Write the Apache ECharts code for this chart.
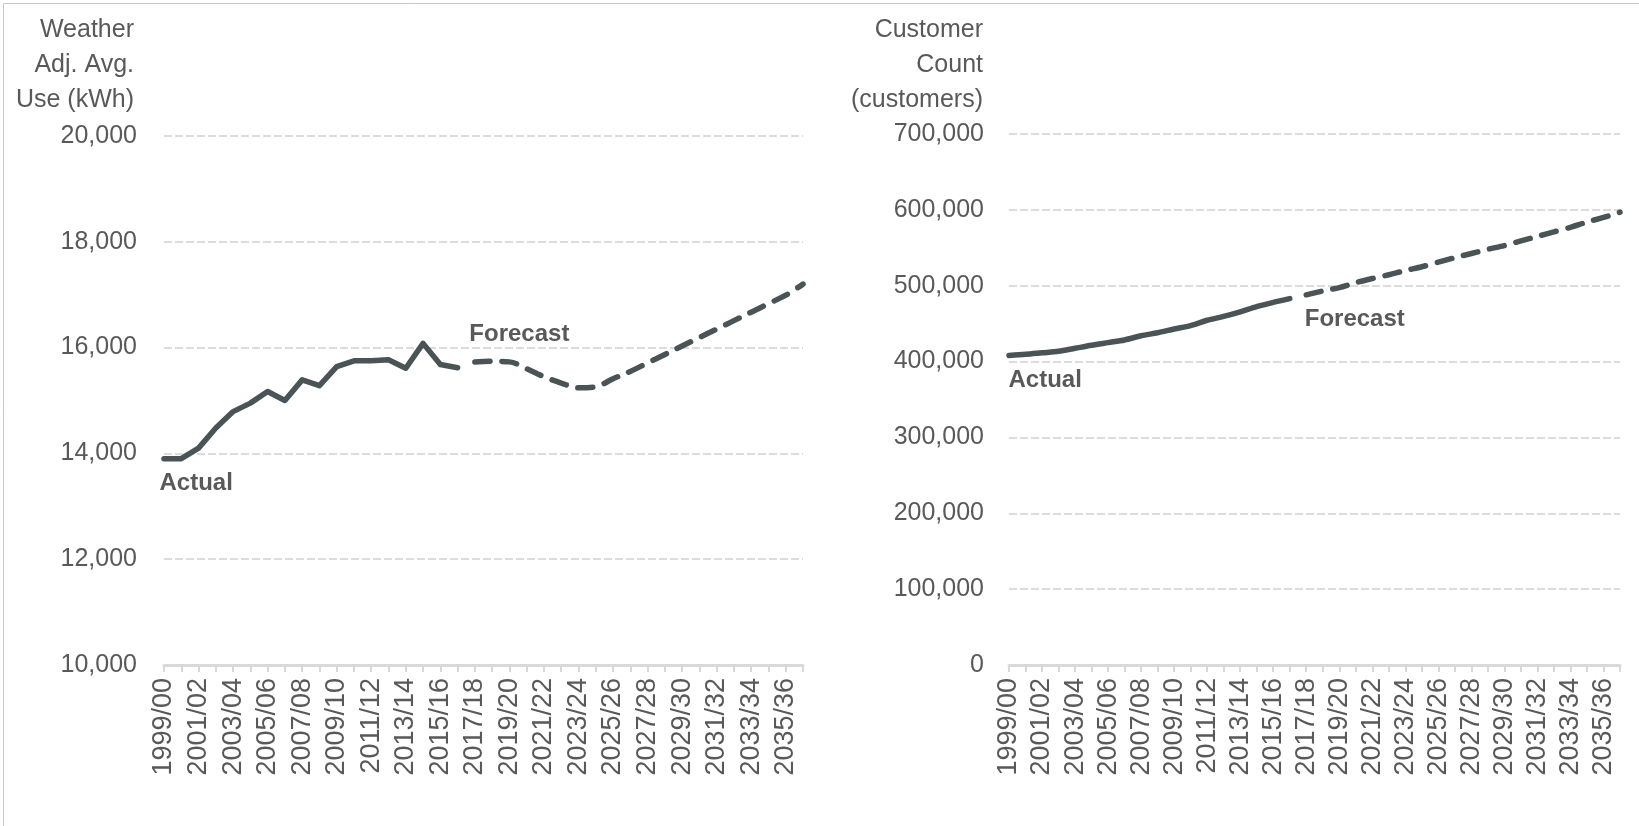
<!DOCTYPE html>
<html>
<head>
<meta charset="utf-8">
<title>Weather adjusted average use and customer count</title>
<script src="https://cdn.jsdelivr.net/npm/echarts@6/dist/echarts.min.js"></script>
<style>
  html, body { margin: 0; padding: 0; background: #ffffff; }
  #chart { width: 1639px; height: 826px; }
</style>
</head>
<body>
<div id="chart"></div>
<script>
// Fiscal years shown on both category axes
const fiscalYears = [
  '1999/00', '2000/01', '2001/02', '2002/03', '2003/04', '2004/05', '2005/06', '2006/07',
  '2007/08', '2008/09', '2009/10', '2010/11', '2011/12', '2012/13', '2013/14', '2014/15',
  '2015/16', '2016/17', '2017/18', '2018/19', '2019/20', '2020/21', '2021/22', '2022/23',
  '2023/24', '2024/25', '2025/26', '2026/27', '2027/28', '2028/29', '2029/30', '2030/31',
  '2031/32', '2032/33', '2033/34', '2034/35', '2035/36', '2036/37'
];

// Weather adjusted average use (kWh): actual 1999/00-2016/17, forecast 2017/18-2036/37
const avgUseActual = [
  13900, 13900, 14100, 14480, 14790, 14950, 15170, 15000, 15390,
  15280, 15640, 15750, 15750, 15770, 15610, 16080, 15680, 15620
];
const avgUseForecast = [
  15730, 15740, 15730, 15600, 15450, 15330, 15240, 15260, 15410, 15550,
  15710, 15870, 16030, 16190, 16350, 16510, 16670, 16830, 16990, 17200
];

// Customer count: actual 1999/00-2016/17, forecast 2017/18-2036/37
const customersActual = [
  408000, 409500, 411500, 413500, 417500, 421500, 425000, 428500, 434000,
  438000, 443000, 447500, 454500, 459500, 465500, 472500, 478000, 483000
];
const customersForecast = [
  488000, 493000, 497500, 504000, 509500, 514500, 520000, 525000, 531000, 537000,
  542500, 548000, 553000, 559000, 565000, 571000, 577000, 584000, 590000, 597000
];

// Axis titles and annotation texts
const useAxisTitle = 'Weather\nAdj. Avg.\nUse (kWh)';
const customerAxisTitle = 'Customer\nCount\n(customers)';
const actualText = 'Actual';
const forecastText = 'Forecast';

const FONT = '"Liberation Sans", Arial, sans-serif';
const TEXT = '#595959';
const LINE = '#4a5356';
const GRID = '#dcdcdc';

// Actual values fill the first part of the axis, forecasts the rest
function padActual(vals) {
  return vals.concat(new Array(fiscalYears.length - vals.length).fill(null));
}
function padForecast(vals) {
  return new Array(fiscalYears.length - vals.length).fill(null).concat(vals);
}

function fmt(v) { return Number(v).toLocaleString('en-US'); }

function xAxisFor(gridIndex) {
  return {
    type: 'category',
    gridIndex: gridIndex,
    data: fiscalYears,
    boundaryGap: false,
    axisLine: { show: true, lineStyle: { color: '#d9d9d9', width: 3 } },
    axisTick: { show: true, interval: 0, length: 7, lineStyle: { color: '#d9d9d9', width: 2 } },
    axisLabel: {
      interval: 1, rotate: 90, margin: 13,
      color: TEXT, fontFamily: FONT, fontSize: 27
    },
    splitLine: { show: false }
  };
}

function yAxisFor(gridIndex, min, max, interval, title, padRight, nameGap, margin) {
  return {
    type: 'value',
    gridIndex: gridIndex,
    min: min, max: max, interval: interval,
    name: title,
    nameLocation: 'end',
    nameGap: nameGap,
    nameTextStyle: {
      color: TEXT, fontFamily: FONT, fontSize: 25, lineHeight: 35,
      align: 'right', verticalAlign: 'bottom', padding: [0, padRight, 0, 0]
    },
    axisLine: { show: false },
    axisTick: { show: false },
    axisLabel: { color: TEXT, fontFamily: FONT, fontSize: 25, margin: margin, formatter: fmt },
    splitLine: { show: true, lineStyle: { color: GRID, width: 2, type: [8, 3] } }
  };
}

function note(text, coord, dx, dy) {
  return {
    coord: coord,
    symbol: 'circle',
    symbolSize: 1,
    itemStyle: { color: 'rgba(0,0,0,0)' },
    label: {
      show: true, formatter: text, position: [dx, dy],
      align: 'left', verticalAlign: 'middle',
      color: TEXT, fontFamily: FONT, fontSize: 24, fontWeight: 'bold'
    }
  };
}

function lineSeries(idx, data, dashed, smooth, notes) {
  return {
    type: 'line',
    xAxisIndex: idx, yAxisIndex: idx,
    data: data,
    showSymbol: false,
    smooth: smooth,
    connectNulls: false,
    lineStyle: {
      color: LINE, width: 5.5,
      type: dashed ? [15, 12] : 'solid',
      cap: 'round', join: 'round'
    },
    markPoint: { silent: true, animation: false, data: notes },
    silent: true
  };
}

const firstF = fiscalYears.length - avgUseForecast.length;

const option = {
  animation: false,
  backgroundColor: '#ffffff',
  graphic: [{
    type: 'rect', silent: true,
    shape: { x: 3.5, y: 3.5, width: 2000, height: 2000 },
    style: { fill: 'none', stroke: '#c8c8c8', lineWidth: 1 }
  }],
  grid: [
    { left: 164, right: 836, top: 136, bottom: 161, containLabel: false },
    { left: 1009, right: 19, top: 134, bottom: 161, containLabel: false }
  ],
  xAxis: [xAxisFor(0), xAxisFor(1)],
  yAxis: [
    yAxisFor(0, 10000, 20000, 2000, useAxisTitle, 30, 18, 27),
    yAxisFor(1, 0, 700000, 100000, customerAxisTitle, 26, 16, 25)
  ],
  series: [
    lineSeries(0, padActual(avgUseActual), false, false,
      [note(actualText, [fiscalYears[0], avgUseActual[0]], -4, 25)]),
    lineSeries(0, padForecast(avgUseForecast), true, 0.35,
      [note(forecastText, [fiscalYears[firstF], avgUseForecast[0]], -5, -27)]),
    lineSeries(1, padActual(customersActual), false, 0.3,
      [note(actualText, [fiscalYears[0], customersActual[0]], 0, 25)]),
    lineSeries(1, padForecast(customersForecast), true, 0.3,
      [note(forecastText, [fiscalYears[firstF], customersForecast[0]], -1, 25)])
  ]
};

const chart = echarts.init(document.getElementById('chart'), null, { renderer: 'canvas' });
chart.setOption(option);
</script>
</body>
</html>
